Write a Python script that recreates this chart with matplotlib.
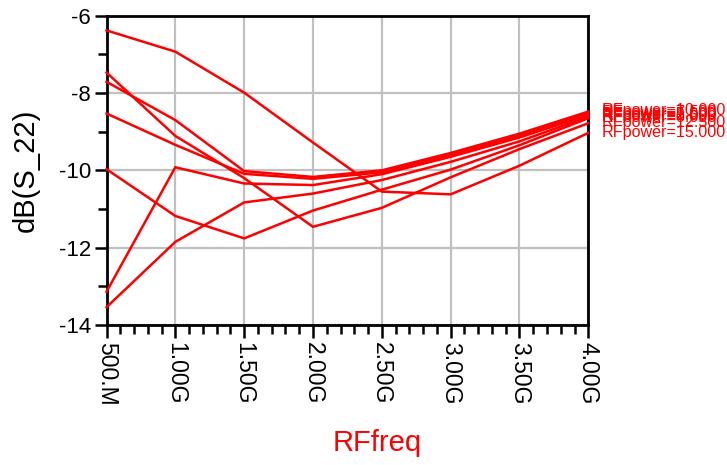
import matplotlib
matplotlib.use("Agg")
import matplotlib.pyplot as plt
from matplotlib.ticker import MultipleLocator

plt.rcParams['font.family'] = ['Liberation Sans', 'DejaVu Sans']

freq_ghz = [0.5, 1.0, 1.5, 2.0, 2.5, 3.0, 3.5, 4.0]
xtick_labels = ["500.M", "1.00G", "1.50G", "2.00G", "2.50G", "3.00G", "3.50G", "4.00G"]

rf_power = ["0.000", "2.500", "5.000", "7.500", "10.000", "12.500", "15.000"]
s22_db = {
    "0.000":  [-9.97, -11.18, -11.76, -11.04, -10.50, -9.98, -9.35, -8.65],
    "2.500":  [-13.54, -11.85, -10.83, -10.60, -10.25, -9.78, -9.25, -8.61],
    "5.000":  [-13.14, -9.92, -10.34, -10.38, -10.10, -9.65, -9.15, -8.57],
    "7.500":  [-8.53, -9.34, -10.09, -10.22, -10.05, -9.60, -9.10, -8.53],
    "10.000": [-7.71, -8.70, -10.02, -10.17, -10.00, -9.55, -9.05, -8.48],
    "12.500": [-7.47, -9.11, -10.20, -11.46, -10.97, -10.18, -9.45, -8.78],
    "15.000": [-6.38, -6.93, -7.99, -9.28, -10.55, -10.62, -9.88, -9.03],
}

fig = plt.figure(figsize=(7.27, 4.65), dpi=100)
ax = fig.add_axes([0.1465, 0.3011, 0.8092 - 0.1465, 0.9662 - 0.3011])

for p in rf_power:
    ax.plot(freq_ghz, s22_db[p], color='#ff0000', lw=1.8, solid_joinstyle='miter', clip_on=False, zorder=3)
    ax.text(freq_ghz[-1] + 0.1, s22_db[p][-1] + 0.02, "RFpower=" + p, color='#ff0000',
            fontsize=11.6, va='center', ha='left', clip_on=False)

ax.set_xlim(0.5, 4.0)
ax.set_ylim(-14, -6)
ax.set_xticks(freq_ghz)
ax.set_xticklabels(xtick_labels, rotation=270, fontsize=16.5)
ax.xaxis.set_minor_locator(MultipleLocator(0.1))
ax.set_yticks([-14, -12, -10, -8, -6])
ax.set_yticklabels(["-14", "-12", "-10", "-8", "-6"], fontsize=16)
ax.yaxis.set_minor_locator(MultipleLocator(1))

ax.tick_params(axis='both', which='major', direction='out', length=9, width=1.8, color='black')
ax.tick_params(axis='both', which='minor', direction='out', length=6.5, width=1.8, color='black')
ax.tick_params(axis='x', which='major', pad=3.5)
ax.tick_params(axis='y', which='major', pad=2)

ax.grid(True, which='major', color='#c0c0c0', lw=1.6, zorder=0)
ax.set_axisbelow(True)
for s in ax.spines.values():
    s.set_color('black')
    s.set_linewidth(2)

ax.set_ylabel("dB(S_22)", fontsize=21, color='black', labelpad=14)
ax.set_xlabel("RFfreq", fontsize=21, color='#ff0000')
ax.xaxis.set_label_coords(0.562, -0.335)

fig.savefig("out.png", dpi=100)
